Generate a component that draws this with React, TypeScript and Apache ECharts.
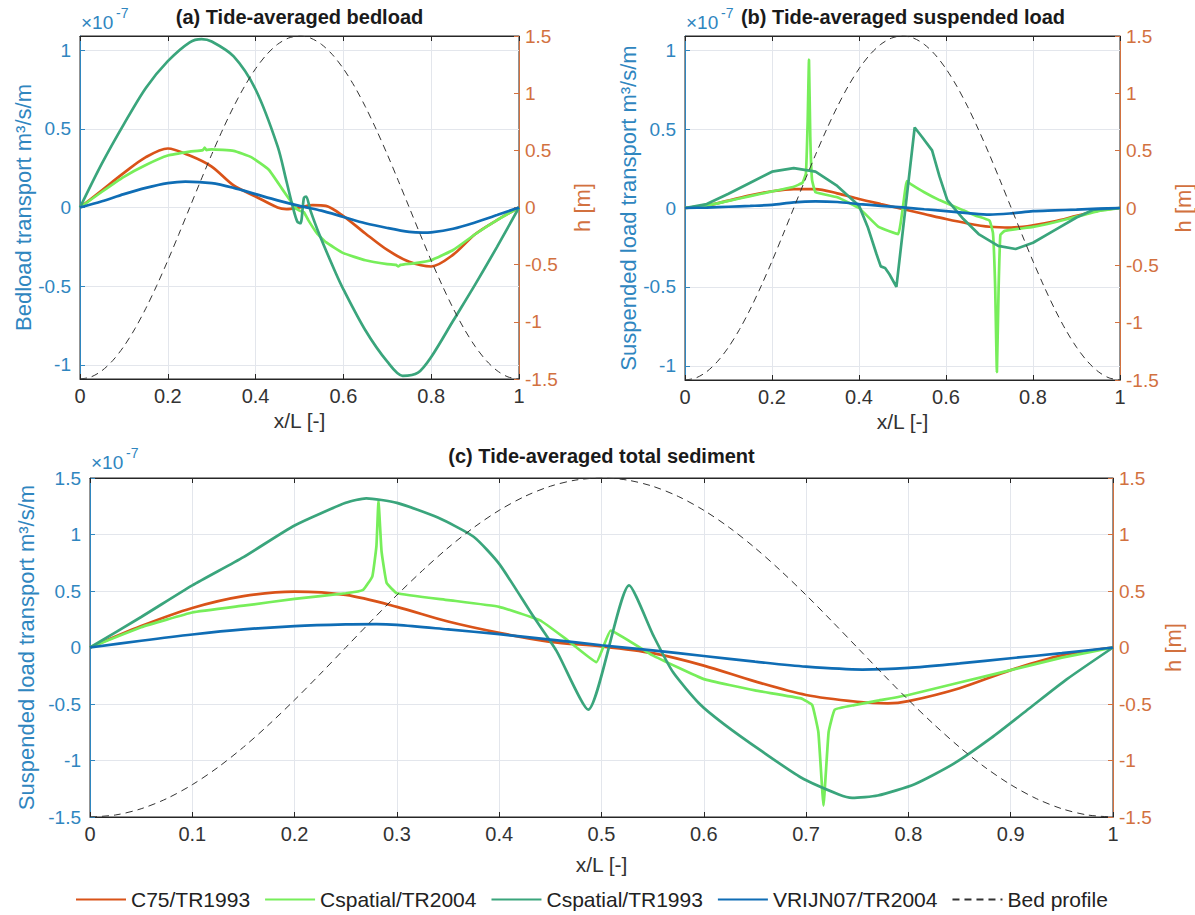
import React, { useEffect, useRef } from "react";
import * as echarts from "echarts";

// ---------- data (values of the left axes are in units of 1e-7 m^3/s/m) ----------
const SERIES_NAMES = ["C75/TR1993", "Cspatial/TR2004", "Cspatial/TR1993", "VRIJN07/TR2004", "Bed profile"];
const PANEL_TITLES = ["(a) Tide-averaged bedload", "(b) Tide-averaged suspended load", "(c) Tide-averaged total sediment"];
const LEFT_NAMES = ["Bedload transport m³/s/m", "Suspended load transport m³/s/m", "Suspended load transport m³/s/m"];
const RIGHT_NAME = "h [m]";
const X_NAME = "x/L [-]";
const LEFT_TICKS_AB = [-1, -0.5, 0, 0.5, 1];

// bed profile (right axis, h in m)
const BED_X = [0, 0.025, 0.05, 0.075, 0.1, 0.125, 0.15, 0.175, 0.2, 0.225, 0.25, 0.275, 0.3, 0.325, 0.35, 0.375, 0.4, 0.425, 0.45, 0.475, 0.5,
  0.525, 0.55, 0.575, 0.6, 0.625, 0.65, 0.675, 0.7, 0.725, 0.75, 0.775, 0.8, 0.825, 0.85, 0.875, 0.9, 0.925, 0.95, 0.975, 1];
const BED_H = [-1.5, -1.482, -1.427, -1.337, -1.214, -1.061, -0.882, -0.681, -0.464, -0.235, 0, 0.235, 0.464, 0.681, 0.882, 1.061, 1.214, 1.337, 1.427, 1.482, 1.5,
  1.482, 1.427, 1.337, 1.214, 1.061, 0.882, 0.681, 0.464, 0.235, 0, -0.235, -0.464, -0.681, -0.882, -1.061, -1.214, -1.337, -1.427, -1.482, -1.5];

// (a) bedload
const A_C75_X = [0, 0.05, 0.1, 0.15, 0.2, 0.25, 0.3, 0.35, 0.4, 0.45, 0.47, 0.5, 0.53, 0.56, 0.6, 0.65, 0.7, 0.75, 0.8, 0.85, 0.9, 0.95, 1];
const A_C75_Y = [0, 0.11, 0.22, 0.32, 0.375, 0.33, 0.26, 0.14, 0.07, 0.0, -0.01, 0.0, 0.015, 0.01, -0.055, -0.165, -0.27, -0.345, -0.375, -0.3, -0.17, -0.08, 0];
const A_CS04_X = [0, 0.05, 0.1, 0.15, 0.2, 0.25, 0.28, 0.284, 0.288, 0.3, 0.35, 0.39, 0.43, 0.46, 0.48, 0.49, 0.5, 0.51, 0.52, 0.54, 0.56, 0.6, 0.65, 0.7, 0.72, 0.725, 0.73, 0.76, 0.8, 0.85, 0.9, 0.95, 1];
const A_CS04_Y = [0, 0.1, 0.195, 0.27, 0.33, 0.355, 0.365, 0.38, 0.365, 0.37, 0.36, 0.32, 0.24, 0.12, 0.04, 0.0, -0.02, -0.03, -0.08, -0.165, -0.22, -0.29, -0.335, -0.36, -0.365, -0.375, -0.365, -0.355, -0.335, -0.27, -0.17, -0.08, 0];
const A_CS93_X = [0, 0.05, 0.1, 0.15, 0.2, 0.25, 0.277, 0.3, 0.35, 0.4, 0.45, 0.47, 0.485, 0.495, 0.502, 0.51, 0.515, 0.525, 0.545, 0.58, 0.6, 0.65, 0.7, 0.735, 0.77, 0.8, 0.85, 0.9, 0.95, 1];
const A_CS93_Y = [0, 0.28, 0.53, 0.76, 0.93, 1.05, 1.07, 1.055, 0.96, 0.75, 0.39, 0.17, 0.0, -0.09, -0.1, 0.06, 0.07, -0.02, -0.17, -0.4, -0.52, -0.78, -0.98, -1.07, -1.05, -0.95, -0.72, -0.49, -0.25, 0];
const A_VR_X = [0, 0.05, 0.1, 0.15, 0.2, 0.24, 0.3, 0.35, 0.4, 0.45, 0.5, 0.55, 0.6, 0.65, 0.7, 0.75, 0.78, 0.8, 0.85, 0.9, 0.95, 1];
const A_VR_Y = [0, 0.04, 0.085, 0.125, 0.155, 0.165, 0.155, 0.125, 0.085, 0.045, 0.01, -0.02, -0.06, -0.1, -0.13, -0.155, -0.16, -0.158, -0.135, -0.095, -0.048, 0];

// (b) suspended load
const B_GRID_X = [0, 0.05, 0.1, 0.15, 0.2, 0.25, 0.3, 0.35, 0.4, 0.45, 0.5, 0.55, 0.6, 0.65, 0.7, 0.75, 0.8, 0.85, 0.9, 0.95, 1];
const B_C75_Y = [0, 0.015, 0.047, 0.08, 0.106, 0.12, 0.12, 0.093, 0.057, 0.025, -0.006, -0.038, -0.07, -0.098, -0.119, -0.124, -0.11, -0.085, -0.05, -0.017, 0];
const B_CS04_X = [0, 0.05, 0.1, 0.15, 0.2, 0.25, 0.27, 0.278, 0.282, 0.285, 0.288, 0.292, 0.3, 0.35, 0.4, 0.445, 0.49, 0.51, 0.52, 0.55, 0.585, 0.64, 0.67, 0.7, 0.708, 0.713, 0.717, 0.721, 0.725, 0.735, 0.8, 0.85, 0.9, 0.95, 1];
const B_CS04_Y = [0, 0.015, 0.045, 0.075, 0.105, 0.135, 0.16, 0.22, 0.55, 0.94, 0.45, 0.18, 0.1, 0.068, 0.0, -0.12, -0.165, 0.17, 0.15, 0.1, 0.05, -0.015, -0.05, -0.08, -0.16, -0.5, -1.04, -0.5, -0.17, -0.145, -0.12, -0.09, -0.055, -0.02, 0];
const B_CS93_X = [0, 0.05, 0.1, 0.15, 0.2, 0.25, 0.3, 0.35, 0.4, 0.42, 0.44, 0.45, 0.46, 0.47, 0.486, 0.528, 0.545, 0.568, 0.585, 0.603, 0.64, 0.675, 0.72, 0.76, 0.8, 0.85, 0.9, 0.94, 1];
const B_CS93_Y = [0, 0.025, 0.09, 0.16, 0.23, 0.253, 0.23, 0.14, 0.015, -0.12, -0.29, -0.37, -0.38, -0.42, -0.5, 0.51, 0.45, 0.365, 0.2, 0.05, -0.07, -0.165, -0.24, -0.26, -0.22, -0.14, -0.06, -0.01, 0];
const B_VR_Y = [0, 0.003, 0.008, 0.013, 0.02, 0.036, 0.042, 0.038, 0.025, 0.014, 0.004, -0.008, -0.02, -0.032, -0.042, -0.034, -0.02, -0.015, -0.01, -0.004, 0];

// (c) total sediment
const C_C75_X = [0, 0.05, 0.1, 0.15, 0.2, 0.25, 0.3, 0.35, 0.4, 0.45, 0.5, 0.55, 0.6, 0.65, 0.7, 0.75, 0.78, 0.8, 0.85, 0.9, 0.95, 1];
const C_C75_Y = [0, 0.19, 0.35, 0.455, 0.495, 0.465, 0.36, 0.23, 0.13, 0.05, 0.01, -0.05, -0.16, -0.3, -0.42, -0.48, -0.495, -0.475, -0.36, -0.2, -0.07, 0];
const C_CS04_X = [0, 0.05, 0.1, 0.15, 0.2, 0.25, 0.267, 0.276, 0.28, 0.282, 0.285, 0.29, 0.3, 0.35, 0.4, 0.44, 0.466, 0.495, 0.509, 0.55, 0.6, 0.65, 0.695, 0.706, 0.712, 0.717, 0.722, 0.728, 0.747, 0.77, 0.8, 0.85, 0.9, 0.95, 1];
const C_CS04_Y = [0, 0.18, 0.31, 0.37, 0.43, 0.48, 0.51, 0.63, 0.9, 1.3, 0.85, 0.57, 0.48, 0.42, 0.36, 0.24, 0.07, -0.13, 0.15, -0.07, -0.28, -0.38, -0.45, -0.51, -0.75, -1.4, -0.75, -0.55, -0.51, -0.47, -0.42, -0.31, -0.2, -0.09, 0];
const C_CS93_X = [0, 0.05, 0.1, 0.15, 0.2, 0.25, 0.27, 0.3, 0.34, 0.375, 0.4, 0.433, 0.456, 0.487, 0.527, 0.551, 0.57, 0.596, 0.62, 0.657, 0.695, 0.732, 0.745, 0.77, 0.806, 0.844, 0.881, 0.918, 0.955, 1];
const C_CS93_Y = [0, 0.27, 0.55, 0.8, 1.08, 1.28, 1.32, 1.28, 1.15, 0.98, 0.74, 0.28, -0.03, -0.55, 0.55, 0.1, -0.22, -0.5, -0.68, -0.92, -1.15, -1.3, -1.33, -1.31, -1.21, -1.03, -0.8, -0.54, -0.28, 0];
const C_VR_X = [0, 0.05, 0.1, 0.15, 0.2, 0.25, 0.28, 0.3, 0.35, 0.4, 0.45, 0.5, 0.55, 0.6, 0.65, 0.7, 0.755, 0.8, 0.85, 0.9, 0.95, 1];
const C_VR_Y = [0, 0.06, 0.115, 0.16, 0.19, 0.205, 0.207, 0.2, 0.16, 0.118, 0.07, 0.02, -0.025, -0.075, -0.125, -0.17, -0.195, -0.18, -0.14, -0.095, -0.05, 0];

// ---------- styling ----------
const FONT = "'Liberation Sans', Arial, Helvetica, sans-serif";
const COL = ["#D95319", "#77EE5A", "#3AA57C", "#0F6DB5", "#333333"];
const LEFT_COL = "#2F86BF";
const RIGHT_COL = "#D2713F";
const AX_COL = "#262626";
const GRID_COL = "#E3E6EC";

const GRIDS = [
  { left: 80, top: 36, width: 439, height: 343 },
  { left: 685, top: 36, width: 436, height: 344 },
  { left: 90, top: 478, width: 1023, height: 339 },
];

// smoothing per panel / per series (C75, Cspatial04, Cspatial93, VRIJN07)
const SMOOTH = [
  [0.3, 0.12, 0.3, 0.3],
  [0.3, 0.1, 0, 0.3],
  [0.3, 0.1, 0.2, 0.3],
];

const pairs = (xs: number[], ys: number[]) => xs.map((x, i) => [x, ys[i]]);

const PANEL_DATA = [
  [pairs(A_C75_X, A_C75_Y), pairs(A_CS04_X, A_CS04_Y), pairs(A_CS93_X, A_CS93_Y), pairs(A_VR_X, A_VR_Y)],
  [pairs(B_GRID_X, B_C75_Y), pairs(B_CS04_X, B_CS04_Y), pairs(B_CS93_X, B_CS93_Y), pairs(B_GRID_X, B_VR_Y)],
  [pairs(C_C75_X, C_C75_Y), pairs(C_CS04_X, C_CS04_Y), pairs(C_CS93_X, C_CS93_Y), pairs(C_VR_X, C_VR_Y)],
];

const fmt = (v: number) => String(Math.round(v * 10) / 10);

function buildOption() {
  const xAxis: any[] = [];
  const yAxis: any[] = [];
  const series: any[] = [];
  const graphic: any[] = [];

  GRIDS.forEach((g, p) => {
    const isC = p === 2;
    xAxis.push({
      type: "value", gridIndex: p, position: "bottom", min: 0, max: 1, interval: isC ? 0.1 : 0.2,
      name: X_NAME, nameLocation: "middle", nameGap: isC ? 37 : 31,
      nameTextStyle: { fontFamily: FONT, fontSize: 21, color: "#333" },
      axisLine: { onZero: false, lineStyle: { color: AX_COL, width: 1 } },
      axisTick: { inside: true, length: 5, lineStyle: { color: AX_COL } },
      axisLabel: { fontFamily: FONT, fontSize: 20, color: "#333", margin: 7, formatter: fmt },
      splitLine: { show: true, lineStyle: { color: GRID_COL, width: 1 } },
    });
  });
  GRIDS.forEach((g, p) => {
    const isC = p === 2;
    xAxis.push({
      type: "value", gridIndex: p, position: "top", min: 0, max: 1, interval: isC ? 0.1 : 0.2,
      axisLine: { show: true, onZero: false, lineStyle: { color: AX_COL, width: 1 } },
      axisTick: { inside: true, length: 5, lineStyle: { color: AX_COL } },
      axisLabel: { show: false }, splitLine: { show: false },
    });
  });

  GRIDS.forEach((g, p) => {
    const isC = p === 2;
    const leftAxis: any = {
      type: "value", gridIndex: p, position: "left",
      name: LEFT_NAMES[p], nameLocation: "middle", nameRotate: 90, nameGap: isC ? 48 : 43,
      nameTextStyle: { fontFamily: FONT, fontSize: 22, color: LEFT_COL },
      axisLine: { show: true, onZero: false, lineStyle: { color: LEFT_COL, width: 1 } },
      axisTick: { show: true, inside: true, length: 5, lineStyle: { color: LEFT_COL } },
      axisLabel: { fontFamily: FONT, fontSize: 19, color: LEFT_COL, margin: 9, formatter: fmt },
      splitLine: { show: true, lineStyle: { color: GRID_COL, width: 1 } },
    };
    if (isC) {
      leftAxis.min = -1.5; leftAxis.max = 1.5; leftAxis.interval = 0.5;
    } else {
      leftAxis.min = -1.09; leftAxis.max = 1.09;
      leftAxis.axisTick.customValues = LEFT_TICKS_AB;
      leftAxis.axisLabel.customValues = LEFT_TICKS_AB;
    }
    yAxis.push(leftAxis);
    yAxis.push({
      type: "value", gridIndex: p, position: "right", min: -1.5, max: 1.5, interval: 0.5,
      name: RIGHT_NAME, nameLocation: "middle", nameRotate: 90, nameGap: isC ? 48 : 52,
      nameTextStyle: { fontFamily: FONT, fontSize: 22, color: RIGHT_COL },
      axisLine: { show: true, onZero: false, lineStyle: { color: RIGHT_COL, width: 1 } },
      axisTick: { show: true, inside: true, length: 5, lineStyle: { color: RIGHT_COL } },
      axisLabel: { fontFamily: FONT, fontSize: 19, color: RIGHT_COL, margin: 6, formatter: fmt },
      splitLine: { show: false },
    });

    PANEL_DATA[p].forEach((d, k) => {
      const sm = SMOOTH[p][k];
      series.push({
        type: "line", name: SERIES_NAMES[k], xAxisIndex: p, yAxisIndex: 2 * p, data: d,
        showSymbol: false, symbol: "none", smooth: sm === 0 ? false : sm,
        lineStyle: { color: COL[k], width: 2.7 }, itemStyle: { color: COL[k] }, z: 2 + k,
      });
    });
    series.push({
      type: "line", name: SERIES_NAMES[4], xAxisIndex: p, yAxisIndex: 2 * p + 1, data: pairs(BED_X, BED_H),
      showSymbol: false, symbol: "none", smooth: 0.3,
      lineStyle: { color: COL[4], width: 1, type: [7, 5] }, itemStyle: { color: COL[4] }, z: 7,
    });

    // panel title
    graphic.push({
      type: "text", x: g.left + g.width / 2, y: isC ? 456 : 17,
      style: { text: PANEL_TITLES[p], font: `bold 20px ${FONT}`, fill: "#1a1a1a", textAlign: "center", textVerticalAlign: "middle" },
    });
    // exponent label
    const ey = isC ? 462 : 22;
    const ex = isC ? 91 : g.left + 1;
    graphic.push({
      type: "text", x: ex, y: ey,
      style: { text: "×10", font: `19px ${FONT}`, fill: LEFT_COL, textAlign: "left", textVerticalAlign: "middle" },
    });
    graphic.push({
      type: "text", x: ex + 35, y: ey - 9,
      style: { text: "-7", font: `14px ${FONT}`, fill: LEFT_COL, textAlign: "left", textVerticalAlign: "middle" },
    });
  });

  return {
    animation: false,
    backgroundColor: "#ffffff",
    grid: GRIDS.map((g) => ({ ...g, show: true, borderColor: AX_COL, borderWidth: 1, backgroundColor: "transparent", containLabel: false })),
    xAxis, yAxis, series, graphic,
    legend: {
      data: SERIES_NAMES, left: 70, top: 884, itemWidth: 50, itemHeight: 14, itemGap: 14,
      itemStyle: { opacity: 0 },
      textStyle: { fontFamily: FONT, fontSize: 21, color: "#222", padding: [0, 0, 0, 0] },
    },
  };
}

export default function App() {
  const ref = useRef<HTMLDivElement>(null);
  useEffect(() => {
    if (!ref.current) return;
    const chart = echarts.init(ref.current, null, { renderer: "svg" });
    chart.setOption(buildOption() as any);
    return () => chart.dispose();
  }, []);
  return (
    <div
      ref={ref}
      style={{ position: "absolute", left: 0, top: 0, width: 1195, height: 915, background: "#fff" }}
    />
  );
}
